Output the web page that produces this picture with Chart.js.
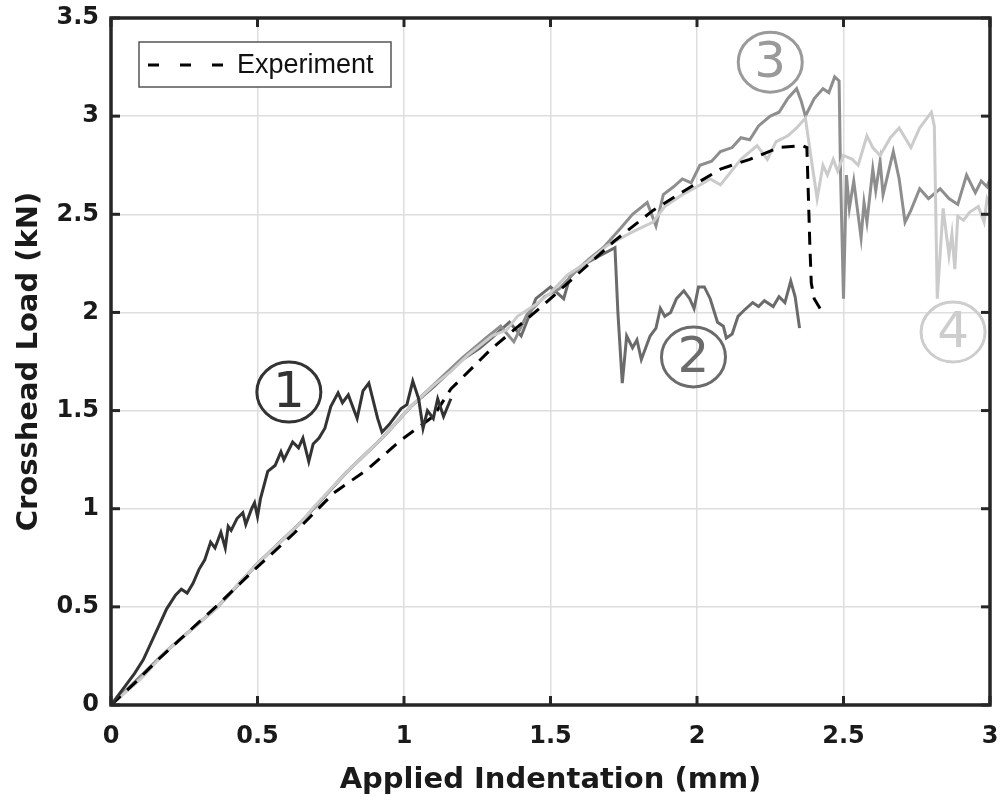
<!DOCTYPE html>
<html>
<head>
<meta charset="utf-8">
<script src="https://cdn.jsdelivr.net/npm/chart.js@4.4.1/dist/chart.umd.min.js"></script>
<style>
  html, body { margin: 0; padding: 0; background: #fff; }
  canvas { display: block; }
</style>
</head>
<body>
<canvas id="loadChart" width="1003" height="803"></canvas>
<script>
// Tick labels
const X_TICKS = ['0', '0.5', '1', '1.5', '2', '2.5', '3'];
const Y_TICKS = ['0', '0.5', '1', '1.5', '2', '2.5', '3', '3.5'];

// Experiment (dashed black)
const EXP_X = [0, 0.08, 0.16, 0.24, 0.365, 0.49, 0.625, 0.76, 0.875, 0.99, 1.10, 1.16, 1.295, 1.47, 1.715, 1.85, 1.99, 2.08, 2.18, 2.28, 2.36, 2.375, 2.38, 2.385, 2.39, 2.40, 2.42];
const EXP_Y = [0, 0.11, 0.23, 0.34, 0.51, 0.69, 0.875, 1.08, 1.20, 1.35, 1.47, 1.61, 1.81, 2.03, 2.36, 2.52, 2.65, 2.73, 2.78, 2.84, 2.85, 2.84, 2.60, 2.35, 2.15, 2.07, 2.02];

// Simulation 1 (darkest)
const SIM1_X = [0, 0.04, 0.08, 0.11, 0.15, 0.19, 0.22, 0.24, 0.26, 0.28, 0.30, 0.32, 0.34, 0.355, 0.375, 0.39, 0.40, 0.41, 0.43, 0.45, 0.46, 0.48, 0.49, 0.50, 0.51, 0.535, 0.56, 0.58, 0.59, 0.62, 0.64, 0.655, 0.675, 0.69, 0.71, 0.73, 0.75, 0.775, 0.79, 0.81, 0.84, 0.86, 0.88, 0.91, 0.925, 0.95, 0.99, 1.01, 1.03, 1.05, 1.065, 1.08, 1.10, 1.115, 1.135, 1.16];
const SIM1_Y = [0, 0.08, 0.16, 0.23, 0.36, 0.49, 0.56, 0.59, 0.57, 0.62, 0.69, 0.74, 0.83, 0.80, 0.88, 0.80, 0.91, 0.89, 0.95, 0.98, 0.92, 1.00, 1.03, 0.96, 1.05, 1.19, 1.22, 1.29, 1.25, 1.34, 1.31, 1.36, 1.24, 1.33, 1.36, 1.41, 1.52, 1.59, 1.54, 1.58, 1.46, 1.60, 1.64, 1.46, 1.39, 1.43, 1.51, 1.53, 1.65, 1.56, 1.41, 1.50, 1.46, 1.56, 1.47, 1.56];

// Simulation 2 (dark gray)
const SIM2_X = [0, 0.193, 0.364, 0.5, 0.648, 0.8, 0.932, 1.023, 1.1, 1.2, 1.26, 1.3, 1.36, 1.40, 1.45, 1.5, 1.545, 1.57, 1.62, 1.67, 1.72, 1.73, 1.745, 1.76, 1.78, 1.795, 1.81, 1.83, 1.84, 1.86, 1.875, 1.89, 1.91, 1.93, 1.955, 1.975, 1.99, 2.005, 2.025, 2.045, 2.07, 2.09, 2.10, 2.12, 2.14, 2.16, 2.19, 2.21, 2.23, 2.26, 2.28, 2.30, 2.32, 2.335, 2.35];
const SIM2_Y = [0, 0.28, 0.50, 0.72, 0.93, 1.18, 1.37, 1.52, 1.62, 1.76, 1.82, 1.87, 1.95, 1.88, 2.07, 2.13, 2.07, 2.20, 2.25, 2.29, 2.33, 2.00, 1.64, 1.88, 1.82, 1.86, 1.76, 1.84, 1.88, 1.92, 2.02, 1.98, 2.00, 2.07, 2.11, 2.07, 2.02, 2.13, 2.13, 2.07, 1.95, 1.93, 1.87, 1.89, 1.98, 2.01, 2.05, 2.03, 2.06, 2.03, 2.08, 2.05, 2.16, 2.08, 1.92];

// Simulation 3 (medium gray)
const SIM3_X = [0, 0.193, 0.364, 0.5, 0.648, 0.8, 0.932, 1.023, 1.1, 1.2, 1.28, 1.33, 1.375, 1.42, 1.48, 1.53, 1.58, 1.63, 1.68, 1.74, 1.78, 1.83, 1.86, 1.885, 1.92, 1.95, 1.98, 2.01, 2.05, 2.08, 2.12, 2.15, 2.18, 2.21, 2.25, 2.28, 2.31, 2.34, 2.355, 2.37, 2.40, 2.43, 2.45, 2.47, 2.485, 2.49, 2.50, 2.51, 2.52, 2.535, 2.56, 2.57, 2.58, 2.60, 2.61, 2.625, 2.635, 2.67, 2.69, 2.71, 2.73, 2.76, 2.79, 2.83, 2.86, 2.89, 2.92, 2.95, 2.97, 2.99, 3.0];
const SIM3_Y = [0, 0.28, 0.50, 0.72, 0.93, 1.18, 1.37, 1.52, 1.63, 1.77, 1.87, 1.93, 1.85, 1.99, 2.08, 2.12, 2.20, 2.27, 2.33, 2.43, 2.50, 2.56, 2.44, 2.60, 2.64, 2.68, 2.66, 2.75, 2.77, 2.82, 2.84, 2.89, 2.88, 2.95, 3.00, 3.02, 3.09, 3.14, 3.08, 3.00, 3.09, 3.14, 3.12, 3.20, 3.18, 2.70, 2.07, 2.70, 2.53, 2.67, 2.38, 2.56, 2.46, 2.73, 2.62, 2.77, 2.60, 2.82, 2.68, 2.46, 2.52, 2.63, 2.58, 2.63, 2.58, 2.55, 2.70, 2.61, 2.67, 2.64, 2.68];

// Simulation 4 (light gray)
const SIM4_X = [0, 0.1, 0.193, 0.28, 0.364, 0.43, 0.5, 0.57, 0.648, 0.693, 0.8, 0.932, 1.023, 1.102, 1.16, 1.216, 1.3, 1.35, 1.387, 1.45, 1.5, 1.557, 1.62, 1.693, 1.78, 1.85, 1.89, 1.95, 2.0, 2.045, 2.08, 2.15, 2.205, 2.24, 2.27, 2.31, 2.34, 2.37, 2.39, 2.41, 2.43, 2.445, 2.465, 2.48, 2.50, 2.53, 2.55, 2.58, 2.60, 2.625, 2.66, 2.69, 2.73, 2.76, 2.80, 2.81, 2.82, 2.84, 2.86, 2.87, 2.88, 2.89, 2.91, 2.93, 2.96, 2.98, 2.99, 3.0];
const SIM4_Y = [0, 0.13, 0.28, 0.39, 0.50, 0.61, 0.72, 0.82, 0.93, 1.01, 1.18, 1.37, 1.52, 1.63, 1.70, 1.78, 1.88, 1.91, 1.98, 2.04, 2.10, 2.19, 2.25, 2.34, 2.41, 2.46, 2.54, 2.60, 2.64, 2.68, 2.65, 2.78, 2.85, 2.78, 2.87, 2.90, 2.94, 2.99, 2.78, 2.58, 2.75, 2.70, 2.78, 2.72, 2.80, 2.78, 2.75, 2.90, 2.84, 2.80, 2.89, 2.94, 2.84, 2.94, 3.02, 2.95, 2.07, 2.53, 2.29, 2.40, 2.22, 2.49, 2.47, 2.51, 2.54, 2.46, 2.58, 2.55];

// Circled case numbers
const CASE_LABELS = ['1', '2', '3', '4'];
const CASE_COLORS = ['#333333', '#6b6b6b', '#9a9a9a', '#cdcdcd'];
const CASE_AT_X = [0.607, 1.988, 2.25, 2.874];
const CASE_AT_Y = [1.594, 1.773, 3.275, 1.90];

function toPoints(xs, ys) {
    return xs.map((x, i) => ({ x, y: ys[i] }));
}

function line(ctx, x1, y1, x2, y2) {
    ctx.beginPath();
    ctx.moveTo(x1, y1);
    ctx.lineTo(x2, y2);
    ctx.stroke();
}

// Circled numbers, legend box, inward ticks and axes box (MATLAB look)
const decorPlugin = {
    id: 'decor',
    afterDatasetsDraw(chart) {
        const { ctx, scales: { x, y } } = chart;
        ctx.save();
        CASE_LABELS.forEach((label, i) => {
            const cx = x.getPixelForValue(CASE_AT_X[i]);
            const cy = y.getPixelForValue(CASE_AT_Y[i]);
            ctx.strokeStyle = CASE_COLORS[i];
            ctx.fillStyle = CASE_COLORS[i];
            ctx.lineWidth = 3;
            ctx.beginPath();
            ctx.ellipse(cx, cy, 32, 30, 0, 0, Math.PI * 2);
            ctx.stroke();
            ctx.font = '50px "DejaVu Sans"';
            ctx.textAlign = 'center';
            ctx.textBaseline = 'middle';
            ctx.fillText(label, cx, cy + 2);
        });
        ctx.restore();
    },
    afterDraw(chart) {
        const { ctx, chartArea: a, scales: { x, y } } = chart;
        ctx.save();

        // legend (only the experiment is listed)
        const exp = chart.data.datasets.find(d => d.showInLegend);
        const lx = a.left + 28, ly = a.top + 24;
        ctx.fillStyle = '#ffffff';
        ctx.fillRect(lx, ly, 252, 45);
        ctx.strokeStyle = '#555555';
        ctx.lineWidth = 1.5;
        ctx.strokeRect(lx, ly, 252, 45);
        ctx.strokeStyle = exp.borderColor;
        ctx.lineWidth = 3;
        ctx.setLineDash([11, 21]);
        line(ctx, lx + 9, ly + 23, lx + 88, ly + 23);
        ctx.setLineDash([]);
        ctx.fillStyle = '#111111';
        ctx.font = '27px "Liberation Sans", Arial, sans-serif';
        ctx.textAlign = 'left';
        ctx.textBaseline = 'middle';
        ctx.fillText(exp.label, lx + 98, ly + 24);

        // inward tick marks
        ctx.strokeStyle = '#262626';
        ctx.lineWidth = 3;
        x.ticks.forEach(t => {
            const px = x.getPixelForValue(t.value);
            line(ctx, px, a.bottom, px, a.bottom - 9);
            line(ctx, px, a.top, px, a.top + 9);
        });
        y.ticks.forEach(t => {
            const py = y.getPixelForValue(t.value);
            line(ctx, a.left, py, a.left + 9, py);
            line(ctx, a.right, py, a.right - 9, py);
        });

        // box
        ctx.lineWidth = 3.5;
        ctx.strokeRect(a.left, a.top, a.right - a.left, a.bottom - a.top);
        ctx.restore();
    }
};

const tickFont = { family: '"DejaVu Sans", sans-serif', size: 24, weight: 'bold' };
const titleFont = { family: '"DejaVu Sans", sans-serif', size: 29, weight: 'bold' };

const ctx = document.getElementById('loadChart').getContext('2d');
const chart = new Chart(ctx, {
    type: 'line',
    data: {
        datasets: [
            {
                label: 'Experiment',
                showInLegend: true,
                data: toPoints(EXP_X, EXP_Y),
                borderColor: '#000000',
                borderWidth: 3,
                borderDash: [13, 9],
                order: 1
            },
            {
                label: 'Case 1',
                data: toPoints(SIM1_X, SIM1_Y),
                borderColor: '#333333',
                borderWidth: 3,
                order: 0
            },
            {
                label: 'Case 2',
                data: toPoints(SIM2_X, SIM2_Y),
                borderColor: '#6b6b6b',
                borderWidth: 3,
                order: 4
            },
            {
                label: 'Case 3',
                data: toPoints(SIM3_X, SIM3_Y),
                borderColor: '#8e8e8e',
                borderWidth: 3,
                order: 3
            },
            {
                label: 'Case 4',
                data: toPoints(SIM4_X, SIM4_Y),
                borderColor: '#cbcbcb',
                borderWidth: 3,
                order: 2
            }
        ]
    },
    options: {
        responsive: false,
        animation: false,
        layout: {
            padding: { left: 0, right: 13, top: 18, bottom: 0 }
        },
        elements: {
            point: { radius: 0 },
            line: { tension: 0, fill: false }
        },
        plugins: {
            legend: { display: false },
            tooltip: { enabled: false }
        },
        scales: {
            x: {
                type: 'linear',
                min: 0,
                max: 3,
                afterFit: scale => {
                    scale.height = 98;
                    scale.paddingLeft = 0;
                    scale.paddingRight = 0;
                },
                border: { display: false },
                grid: { color: '#dedede', lineWidth: 1.5, drawTicks: false },
                ticks: {
                    stepSize: 0.5,
                    padding: 17,
                    color: '#1a1a1a',
                    font: tickFont,
                    maxRotation: 0,
                    autoSkip: false,
                    callback: (value, index) => X_TICKS[index]
                },
                title: {
                    display: true,
                    text: 'Applied Indentation (mm)',
                    color: '#1a1a1a',
                    font: titleFont,
                    padding: { top: 0, bottom: 5 }
                }
            },
            y: {
                type: 'linear',
                min: 0,
                max: 3.5,
                afterFit: scale => {
                    scale.width = 111;
                    scale.paddingTop = 0;
                    scale.paddingBottom = 0;
                },
                border: { display: false },
                grid: { color: '#dedede', lineWidth: 1.5, drawTicks: false },
                ticks: {
                    stepSize: 0.5,
                    padding: 12,
                    color: '#1a1a1a',
                    font: tickFont,
                    autoSkip: false,
                    callback: (value, index) => Y_TICKS[index]
                },
                title: {
                    display: true,
                    text: 'Crosshead Load (kN)',
                    color: '#1a1a1a',
                    font: titleFont,
                    padding: { top: 12, bottom: 0 }
                }
            }
        }
    },
    plugins: [decorPlugin]
});
</script>
</body>
</html>
